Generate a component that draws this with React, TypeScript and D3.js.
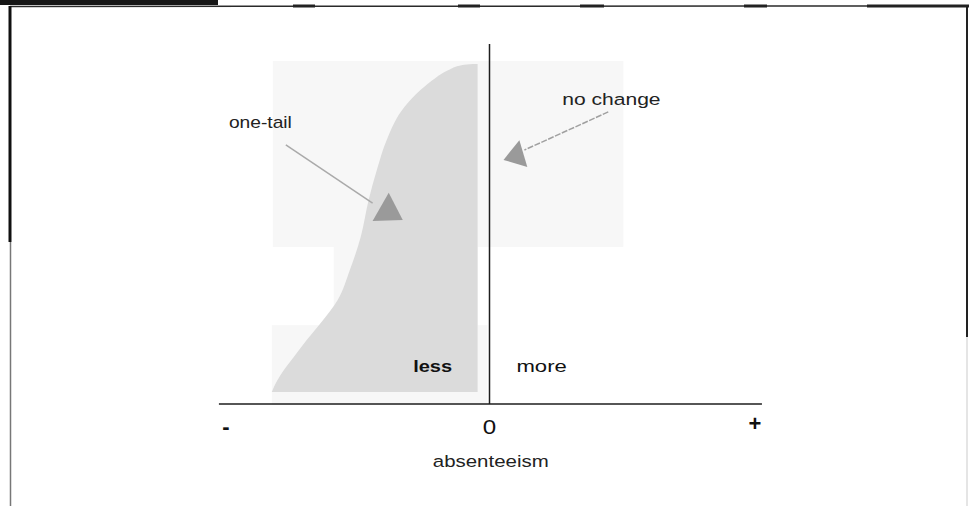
import React from "react";
import * as d3 from "d3";

// ---- data (x: absenteeism change, -1 .. +1 ; y: cumulative height 0..1) ----
const curveX = [-0.823, -0.815, -0.785, -0.74, -0.691, -0.638, -0.574, -0.528, -0.487, -0.457, -0.426, -0.389, -0.321, -0.26, -0.204, -0.155, -0.102, -0.064];
const curveY = [0.035, 0.05, 0.091, 0.138, 0.188, 0.238, 0.306, 0.394, 0.491, 0.6, 0.688, 0.776, 0.874, 0.924, 0.959, 0.982, 0.997, 1.0];
const fillRight = -0.045;
const tickValues = [-1, 0, 1];
const tickLabels = ["-", "0", "+"];
const axisTitle = "absenteeism";
const sideLabels = ["less", "more"];
const annotationLabels = ["one-tail", "no change"];

// annotation anchors in data units
const oneTailText = { x: -0.985, y: 0.812 };
const oneTailLine = [[-0.77, 0.762], [-0.442, 0.591]];
const oneTailHead = [[-0.381, 0.621], [-0.442, 0.538], [-0.328, 0.541]];
const noChangeText = { x: 0.275, y: 0.88 };
const noChangeLine = [[0.449, 0.859], [0.132, 0.747]];
const noChangeHead = [[0.113, 0.776], [0.053, 0.718], [0.143, 0.697]];
const lessPos = { x: -0.215, y: 0.094 };
const morePos = { x: 0.102, y: 0.094 };
const vLineTop = 1.059;
const axisExtent = [-1.023, 1.03];
// faint scan patches [x0, x1, y0, y1]
const patches = [
  [-0.819, 0.506, 1.009, 0.462],
  [-0.589, -0.045, 0.462, 0.232],
  [-0.823, -0.008, 0.232, -0.003],
];

export default function App() {
  const W = 969, H = 506;
  const x = d3.scaleLinear().domain([-1, 1]).range([225, 754]);
  const y = d3.scaleLinear().domain([0, 1]).range([404, 64]);

  const pts = curveX.map((v, i) => ({ x: v, y: curveY[i] }));
  const area = d3
    .area<{ x: number; y: number }>()
    .y((d) => y(d.y))
    .x0((d) => x(d.x))
    .x1(() => x(fillRight))
    .curve(d3.curveMonotoneY);

  const poly = (p: number[][]) => p.map((q) => `${x(q[0])},${y(q[1])}`).join(" ");
  const font = "'Liberation Sans', Arial, Helvetica, sans-serif";
  const stretch = (cx: number, s: number) => `translate(${cx},0) scale(${s},1) translate(${-cx},0)`;

  return (
    <svg width={W} height={H} style={{ position: "absolute", left: 0, top: 0, background: "#fff" }}>
      {/* frame of the scan */}
      <rect x={0} y={0} width={218} height={5} fill="#161616" />
      <line x1={10} y1={6.5} x2={969} y2={6} stroke="#2a2a2a" strokeWidth={1.5} />
      {[[293, 315], [458, 480], [580, 604], [744, 767], [867, 969]].map((s, i) => (
        <rect key={i} x={s[0]} y={4.5} width={s[1] - s[0]} height={3} fill="#222" />
      ))}
      <line x1={10} y1={6} x2={10} y2={242} stroke="#111" strokeWidth={3} />
      <line x1={10.5} y1={242} x2={10.5} y2={506} stroke="#777" strokeWidth={1.5} />
      <line x1={967} y1={6} x2={967} y2={337} stroke="#222" strokeWidth={2} />
      <line x1={967} y1={337} x2={967} y2={506} stroke="#ddd" strokeWidth={1.5} />

      {patches.map((p, i) => (
        <rect key={i} x={x(p[0])} y={y(p[2])} width={x(p[1]) - x(p[0])} height={y(p[3]) - y(p[2])} fill="#f7f7f7" />
      ))}

      <path d={area(pts) || ""} fill="#dbdbdb" />

      {/* axes */}
      <line x1={x(axisExtent[0])} x2={x(axisExtent[1])} y1={y(0)} y2={y(0)} stroke="#1e1e1e" strokeWidth={1.5} />
      <line x1={x(0)} x2={x(0)} y1={y(vLineTop)} y2={y(0)} stroke="#1e1e1e" strokeWidth={1.5} />

      {tickValues.map((v, i) => (
        <text
          key={i}
          x={x(v) + (i === 0 ? 1 : i === 2 ? 1 : 0)}
          y={i === 2 ? 431 : 434}
          textAnchor="middle"
          fontFamily={font}
          fontSize={i === 1 ? 21 : 22}
          fontWeight={i === 1 ? 400 : 700}
          fill="#111"
          transform={i === 1 ? stretch(x(v), 1.15) : undefined}
        >
          {tickLabels[i]}
        </text>
      ))}
      <text x={x(0) + 1} y={467} textAnchor="middle" fontFamily={font} fontSize={16.5} fill="#222"
        transform={stretch(x(0), 1.24)}>
        {axisTitle}
      </text>

      <text x={x(lessPos.x)} y={y(lessPos.y)} textAnchor="middle" fontFamily={font} fontSize={16} fontWeight={700} fill="#111"
        transform={stretch(x(lessPos.x), 1.25)}>
        {sideLabels[0]}
      </text>
      <text x={x(morePos.x)} y={y(morePos.y)} fontFamily={font} fontSize={17} fill="#111"
        transform={stretch(x(morePos.x), 1.3)}>
        {sideLabels[1]}
      </text>

      {/* annotations */}
      <text x={x(oneTailText.x)} y={y(oneTailText.y)} fontFamily={font} fontSize={16} fill="#222"
        transform={stretch(x(oneTailText.x), 1.2)}>
        {annotationLabels[0]}
      </text>
      <line x1={x(oneTailLine[0][0])} y1={y(oneTailLine[0][1])} x2={x(oneTailLine[1][0])} y2={y(oneTailLine[1][1])} stroke="#aaa" strokeWidth={1.5} />
      <polygon points={poly(oneTailHead)} fill="#9a9a9a" />

      <text x={x(noChangeText.x)} y={y(noChangeText.y)} fontFamily={font} fontSize={17} fill="#222"
        transform={stretch(x(noChangeText.x), 1.24)}>
        {annotationLabels[1]}
      </text>
      <line x1={x(noChangeLine[0][0])} y1={y(noChangeLine[0][1])} x2={x(noChangeLine[1][0])} y2={y(noChangeLine[1][1])} stroke="#a0a0a0" strokeWidth={1.5} strokeDasharray="6 1.5" />
      <polygon points={poly(noChangeHead)} fill="#9a9a9a" />
    </svg>
  );
}
